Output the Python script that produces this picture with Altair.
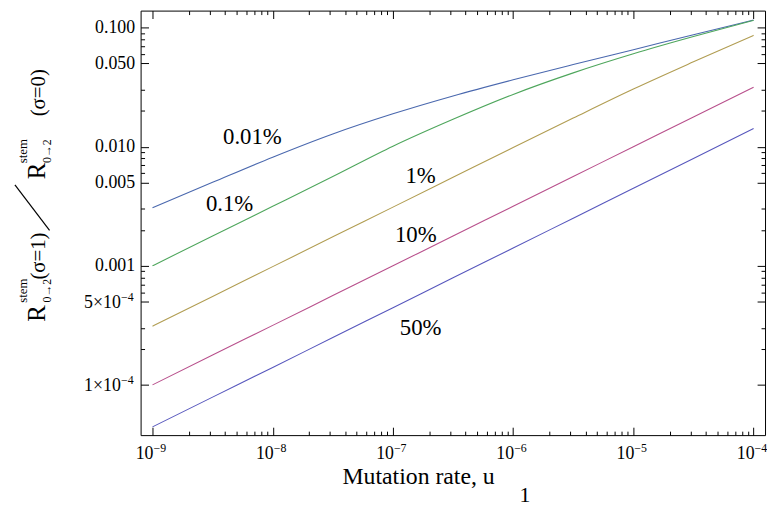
import json
import altair as alt
import pandas as pd

# ---------------- data ----------------
u_values = [1e-9, 3.16e-9, 1e-8, 3.16e-8, 1e-7, 3.16e-7, 1e-6, 3.16e-6, 1e-5, 3.16e-5, 1e-4]
series_names = ["0.01%", "0.1%", "1%", "10%", "50%"]
ratio_0_01 = [3.07e-3, 5.02e-3, 8.17e-3, 0.0128, 0.0189, 0.0267, 0.0365, 0.0490, 0.0653, 0.0871, 0.116]
ratio_0_1 = [1.0e-3, 1.78e-3, 3.16e-3, 5.62e-3, 0.0101, 0.0170, 0.0275, 0.0417, 0.0603, 0.0841, 0.115]
ratio_1 = [3.11e-4, 5.53e-4, 9.84e-4, 1.75e-3, 3.11e-3, 5.53e-3, 9.84e-3, 0.0174, 0.0305, 0.0516, 0.0861]
ratio_10 = [1.0e-4, 1.78e-4, 3.16e-4, 5.62e-4, 1.0e-3, 1.78e-3, 3.16e-3, 5.62e-3, 0.0100, 0.0178, 0.0316]
ratio_50 = [4.44e-5, 7.89e-5, 1.40e-4, 2.50e-4, 4.45e-4, 7.93e-4, 1.41e-3, 2.51e-3, 4.47e-3, 7.96e-3, 0.0142]
series_colors = ["#4a68ae", "#4ea65c", "#b19d52", "#b8508c", "#5757bd"]

label_u = [6.78e-9, 4.38e-9, 1.70e-7, 1.55e-7, 1.70e-7]
label_ratio = [0.0120, 0.00328, 0.00562, 0.00182, 3.0e-4]

# x tick labels: 10 with superscript exponent
x_major = [1e-9, 1e-8, 1e-7, 1e-6, 1e-5, 1e-4]
x_major_base = ["10", "10", "10", "10", "10", "10"]
x_major_exp = ["−9", "−8", "−7", "−6", "−5", "−4"]
x_minor = [m * 10.0 ** e for e in range(-9, -4) for m in range(2, 10)]

# y tick labels
y_major = [1e-4, 5e-4, 1e-3, 5e-3, 1e-2, 5e-2, 1e-1]
y_plain_labels = ["", "", "0.001", "0.005", "0.010", "0.050", "0.100"]
y_pow_values = [1e-4, 5e-4]
y_pow_mant = ["1×10", "5×10"]
y_pow_exp = ["−4", "−4"]
y_minor = [2e-4, 3e-4, 6e-4, 7e-4, 8e-4, 9e-4, 2e-3, 3e-3, 6e-3, 7e-3, 8e-3, 9e-3,
           0.02, 0.03, 0.06, 0.07, 0.08, 0.09]

# ---------------- tables ----------------
rows = []
for name, ys in zip(series_names, [ratio_0_01, ratio_0_1, ratio_1, ratio_10, ratio_50]):
    for xv, yv in zip(u_values, ys):
        rows.append({"series": name, "u": xv, "r": yv})
df = pd.DataFrame(rows)
lab_df = pd.DataFrame({"series": series_names, "u": label_u, "r": label_ratio})
xlab_df = pd.DataFrame({"u": x_major, "base": x_major_base, "exp": x_major_exp})
ylab_df = pd.DataFrame({"r": y_pow_values, "mant": y_pow_mant, "exp": y_pow_exp})

FONT = "Liberation Serif"
W, H = 631, 429
TICK_FS = 18
EXP_FS = 12

xscale = alt.Scale(type="log", domain=[10 ** -9.099, 10 ** -3.905], nice=False)
yscale = alt.Scale(type="log", domain=[10 ** -4.422, 10 ** -0.857], nice=False)

y_expr = json.dumps(y_plain_labels, ensure_ascii=False) + "[round(2*log(datum.value)/LN10)+8]"


def make_axis(orient, values, size, expr=None, pad=6):
    kw = dict(orient=orient, values=values, tickSize=size, offset=-size, domain=False,
              grid=False, title=None, tickColor="black", tickWidth=1)
    if expr is None:
        kw["labels"] = False
    else:
        kw.update(labelExpr=expr, labelFont=FONT, labelFontSize=TICK_FS, labelColor="black",
                  labelPadding=pad, labelOverlap=False, labelFlush=False, labelBound=False)
    return alt.Axis(**kw)


lines = alt.Chart(df).mark_line(strokeWidth=1.1, interpolate="monotone").encode(
    x=alt.X("u:Q", scale=xscale, axis=make_axis("bottom", x_major, 8)),
    y=alt.Y("r:Q", scale=yscale, axis=make_axis("left", y_major, 8, y_expr, 6)),
    color=alt.Color("series:N", scale=alt.Scale(domain=series_names, range=series_colors), legend=None),
)


def axis_layer(xa, ya):
    return alt.Chart(df).mark_point(opacity=0).encode(
        x=alt.X("u:Q", scale=xscale, axis=xa),
        y=alt.Y("r:Q", scale=yscale, axis=ya),
    )


minor_lb = axis_layer(make_axis("bottom", x_minor, 4), make_axis("left", y_minor, 4))
major_tr = axis_layer(make_axis("top", x_major, 8), make_axis("right", y_major, 8))
minor_tr = axis_layer(make_axis("top", x_minor, 4), make_axis("right", y_minor, 4))

# x tick labels (10 + raised exponent)
xlab_base = alt.Chart(xlab_df).mark_text(font=FONT, fontSize=TICK_FS, color="black", align="right",
                                         baseline="alphabetic", dx=1).encode(
    x=alt.X("u:Q", scale=xscale, axis=None), y=alt.value(H + 24), text="base:N")
xlab_exp = alt.Chart(xlab_df).mark_text(font=FONT, fontSize=EXP_FS, color="black", align="left",
                                        baseline="alphabetic", dx=1).encode(
    x=alt.X("u:Q", scale=xscale, axis=None), y=alt.value(H + 17), text="exp:N")

# y tick labels in power form
ylab_mant = alt.Chart(ylab_df).mark_text(font=FONT, fontSize=TICK_FS, color="black", align="right",
                                         baseline="alphabetic", dy=6).encode(
    x=alt.value(-20), y=alt.Y("r:Q", scale=yscale, axis=None), text="mant:N")
ylab_exp = alt.Chart(ylab_df).mark_text(font=FONT, fontSize=EXP_FS, color="black", align="right",
                                        baseline="alphabetic", dy=-1).encode(
    x=alt.value(-7), y=alt.Y("r:Q", scale=yscale, axis=None), text="exp:N")

curve_labels = alt.Chart(lab_df).mark_text(font=FONT, fontSize=23, color="black",
                                           align="center", baseline="middle").encode(
    x=alt.X("u:Q", scale=xscale, axis=None),
    y=alt.Y("r:Q", scale=yscale, axis=None),
    text="series:N",
)


def piece(text, px, py, size, angle=270, align="center"):
    return alt.Chart(pd.DataFrame({"t": [text]})).mark_text(
        font=FONT, fontSize=size, color="black", angle=angle, align=align, baseline="alphabetic"
    ).encode(text="t:N", x=alt.value(px), y=alt.value(py))


ytitle = [
    piece("R", -97, 306, 25),
    piece("stem", -115, 283, 13),
    piece("0→2", -91, 283, 12),
    piece("(σ=1)", -97, 248, 21),
    piece("R", -97, 162, 25),
    piece("stem", -115, 142, 13),
    piece("0→2", -91, 142, 12),
    piece("(σ=0)", -97, 83, 21),
]
slash = alt.Chart(pd.DataFrame({"k": [0]})).mark_rule(color="black", strokeWidth=1.2).encode(
    x=alt.value(-92), y=alt.value(222), x2=alt.value(-127), y2=alt.value(176)
)
xtitle = [
    piece("Mutation rate, u", 204, 478, 24, angle=0, align="left"),
    piece("1", 383, 497, 22, angle=0, align="left"),
]

chart = alt.layer(
    lines, minor_lb, major_tr, minor_tr, xlab_base, xlab_exp, ylab_mant, ylab_exp,
    curve_labels, slash, *ytitle, *xtitle
).resolve_axis(x="independent", y="independent").properties(
    width=W, height=H,
    autosize=alt.AutoSizeParams(type="none"),
    padding={"left": 134, "top": 0, "right": 2, "bottom": 70},
).configure_view(stroke="black", strokeWidth=1)

chart.save("out.html", embed_options={"renderer": "svg", "actions": False})
